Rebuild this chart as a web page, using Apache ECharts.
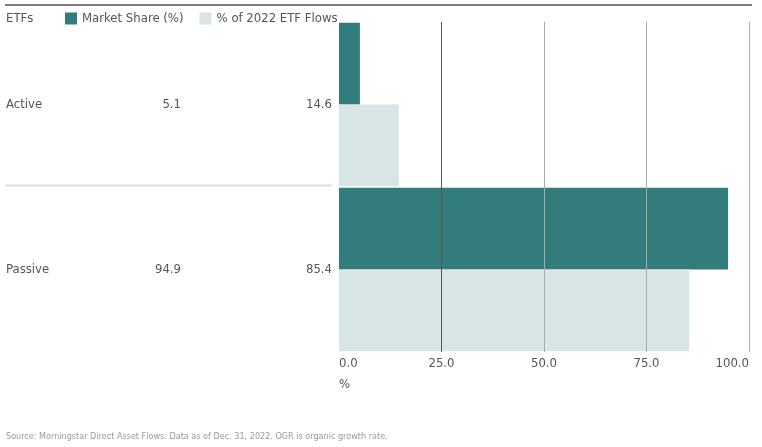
<!DOCTYPE html>
<html><head><meta charset="utf-8">
<script src="https://cdn.jsdelivr.net/npm/echarts@6/dist/echarts.min.js"></script>
<style>html,body{margin:0;padding:0;background:#fff}#c{width:762px;height:447px}</style>
</head><body><div id="c"></div>
<script>
const categories = ['Active', 'Passive'];
const marketShare = [5.1, 94.9];
const etfFlows = [14.6, 85.4];
const seriesNames = ['Market Share (%)', '% of 2022 ETF Flows'];
const xTicks = [0, 25, 50, 75, 100];
const FONT = '"Liberation Sans Narrow","DejaVu Sans Condensed","Roboto",sans-serif';

const chart = echarts.init(document.getElementById('c'));
chart.setOption({
  animation: false,
  textStyle: { fontFamily: FONT },
  legend: {
    left: 60, top: 7, itemWidth: 12, itemHeight: 12, itemGap: 16,
    icon: 'rect',
    textStyle: { fontFamily: FONT, fontSize: 13, color: '#555' },
    data: seriesNames
  },
  grid: { left: 339, right: 13, top: 22, bottom: 95, containLabel: false },
  xAxis: {
    type: 'value', min: xTicks[0], max: xTicks[xTicks.length - 1], interval: 25, z: 5,
    axisLine: { show: false }, axisTick: { show: false },
    splitLine: { show: true, lineStyle: { color: ['rgba(0,0,0,0)', '#555', '#aaa', '#aaa', '#aaa'], width: 1 } },
    axisLabel: {
      fontFamily: FONT, fontSize: 13, color: '#555', margin: 5,
      alignMinLabel: 'left', alignMaxLabel: 'right',
      formatter: v => v.toFixed(1)
    }
  },
  yAxis: {
    type: 'category', inverse: true, data: categories,
    axisLine: { show: false }, axisTick: { show: false },
    axisLabel: {
      margin: 7,
      formatter: (v, i) => '{n|' + v + '}{a|' + marketShare[i].toFixed(1) + '}{b|' + etfFlows[i].toFixed(1) + '}',
      rich: {
        n: { width: 100, align: 'left', fontFamily: FONT, fontSize: 13, color: '#555' },
        a: { width: 75, align: 'right', fontFamily: FONT, fontSize: 13, color: '#555' },
        b: { width: 151, align: 'right', fontFamily: FONT, fontSize: 13, color: '#555' }
      }
    }
  },
  series: [
    { name: seriesNames[0], type: 'bar', data: marketShare, barGap: '0%', barCategoryGap: '1%',
      itemStyle: { color: '#327c7b' } },
    { name: seriesNames[1], type: 'bar', data: etfFlows, barGap: '0%', barCategoryGap: '1%',
      itemStyle: { color: '#d7e6e5' } }
  ],
  graphic: [
    { type: 'line', shape: { x1: 5, y1: 5, x2: 752, y2: 5 }, style: { stroke: '#555', lineWidth: 1.5 } },
    { type: 'text', left: 6, top: 12, style: { text: 'ETFs', fontFamily: FONT, fontSize: 13, fill: '#555' } },
    { type: 'line', shape: { x1: 5, y1: 185.5, x2: 332, y2: 185.5 }, style: { stroke: '#ddd', lineWidth: 2 } },
    { type: 'text', left: 339, top: 378, style: { text: '%', fontFamily: FONT, fontSize: 13, fill: '#555' } },
    { type: 'text', left: 6, top: 432, style: { text: 'Source: Morningstar Direct Asset Flows. Data as of Dec. 31, 2022. OGR is organic growth rate.', fontFamily: FONT, fontSize: 9, fill: '#999' } }
  ]
});
</script></body></html>
